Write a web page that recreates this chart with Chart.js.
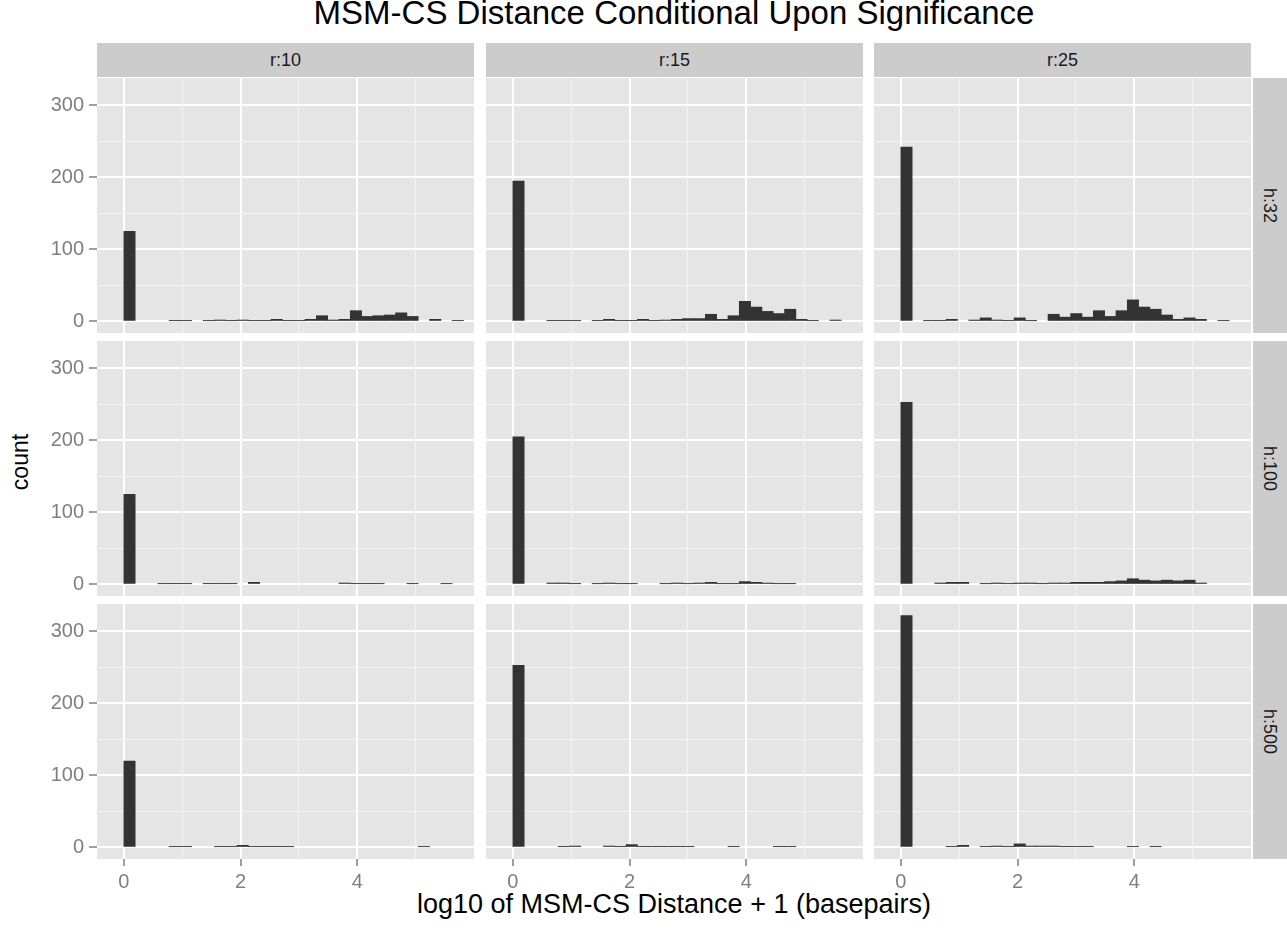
<!DOCTYPE html>
<html>
<head>
<meta charset="utf-8">
<script src="https://cdn.jsdelivr.net/npm/chart.js@4.4.0/dist/chart.umd.min.js"></script>
<style>
  body { margin: 0; background: #ffffff; font-family: "Liberation Sans", Arial, sans-serif; }
  #wrap { position: relative; width: 1287px; height: 932px; overflow: hidden; }
  .box { position: absolute; }
  .strip { position: absolute; background: #cccccc; color: #1a1a1a; font-size: 18px;
           display: flex; align-items: center; justify-content: center; }
  .vtext { transform: rotate(90deg); white-space: nowrap; }
  #title { position: absolute; left: 0; width: 1348px; top: -6px; text-align: center; font-size: 33px; color: #000; }
  #xtitle { position: absolute; left: 0; width: 1348px; top: 889px; text-align: center; font-size: 27px; color: #000; }
  #ytitle { position: absolute; left: 20px; top: 462px; font-size: 23px; color: #000;
            transform: translate(-50%, -50%) rotate(-90deg); white-space: nowrap; }
</style>
</head>
<body>
<div id="wrap">
  <div id="title">MSM-CS Distance Conditional Upon Significance</div>
  <div id="xtitle">log10 of MSM-CS Distance + 1 (basepairs)</div>
  <div id="ytitle">count</div>
</div>
<script>
// histogram bins (log10 distance + 1), width 0.194
const binCenters = [0.097, 0.291, 0.485, 0.679, 0.873, 1.067, 1.261, 1.455, 1.649, 1.843,
                    2.037, 2.231, 2.425, 2.619, 2.813, 3.007, 3.201, 3.395, 3.589, 3.783,
                    3.977, 4.171, 4.365, 4.559, 4.753, 4.947, 5.141, 5.335, 5.529, 5.723];
const colLabels = ['r:10', 'r:15', 'r:25'];
const rowLabels = ['h:32', 'h:100', 'h:500'];
const xTicks = [0, 1, 2, 3, 4, 5];
const yTicks = [0, 50, 100, 150, 200, 250, 300];

// counts, one array per facet
const h32r10  = [125,0,0,0,1,1,0,1,2,1,2,1,1,3,1,1,3,8,2,3,15,7,8,9,12,7,0,3,0,1];
const h32r15  = [195,0,0,1,1,1,0,1,3,1,1,3,1,2,3,4,4,10,3,8,28,20,14,11,17,3,1,0,2,0];
const h32r25  = [242,0,1,1,3,0,2,5,2,1,5,1,0,10,6,11,6,15,7,15,30,20,17,9,3,5,3,0,1,0];
const h100r10 = [125,0,0,1,1,1,0,1,1,1,0,3,0,0,0,0,0,0,0,2,1,1,1,0,0,1,0,0,1,0];
const h100r15 = [205,0,0,2,2,1,0,1,2,1,1,0,0,1,2,1,2,3,1,1,4,3,2,1,1,0,0,0,0,0];
const h100r25 = [253,0,0,2,3,3,0,1,2,1,2,2,1,2,2,3,3,3,4,5,8,6,5,6,5,6,2,0,0,0];
const h500r10 = [120,0,0,0,1,1,0,0,1,1,3,1,1,1,1,0,0,0,0,0,0,0,0,0,0,0,1,0,0,0];
const h500r15 = [253,0,0,0,1,2,0,0,2,1,4,1,1,1,1,1,0,0,0,1,0,0,0,1,1,0,0,0,0,0];
const h500r25 = [322,0,0,0,1,3,0,1,2,1,5,2,2,2,1,1,1,0,0,0,1,0,1,0,0,0,0,0,0,0];

const facets = [
  [h32r10, h32r15, h32r25],
  [h100r10, h100r15, h100r25],
  [h500r10, h500r15, h500r25]
];

var colLeft = [97, 486, 874];
var rowTop = [78, 341, 604];
var panelW = 377, panelH = 255;
var FONT = '"Liberation Sans", Arial, sans-serif';

var wrap = document.getElementById('wrap');

// grey panel background
const panelBg = {
  id: 'panelBg',
  beforeDraw(chart) {
    var a = chart.chartArea, g = chart.ctx;
    g.save();
    g.fillStyle = '#e5e5e5';
    g.fillRect(a.left, a.top, a.right - a.left, a.bottom - a.top);
    g.restore();
  }
};

function addStrip(x, y, w, h, text, vertical) {
  var d = document.createElement('div');
  d.className = 'strip';
  d.style.left = x + 'px'; d.style.top = y + 'px';
  d.style.width = w + 'px'; d.style.height = h + 'px';
  var s = document.createElement('span');
  s.textContent = text;
  if (vertical) s.className = 'vtext';
  d.appendChild(s);
  wrap.appendChild(d);
}

for (var c = 0; c < 3; c++) addStrip(colLeft[c], 43, panelW, 34, colLabels[c], false);
for (var r = 0; r < 3; r++) addStrip(1253, rowTop[r], 34, panelH, rowLabels[r], true);

function noPad(a) {
  a.paddingTop = 0; a.paddingBottom = 0; a.paddingLeft = 0; a.paddingRight = 0;
}

function makePanel(r, c) {
  var yAxisW = c === 0 ? 60 : 0;
  var xAxisH = r === 2 ? 40 : 0;
  var box = document.createElement('div');
  box.className = 'box';
  box.style.left = (colLeft[c] - yAxisW) + 'px';
  box.style.top = rowTop[r] + 'px';
  var cv = document.createElement('canvas');
  cv.width = panelW + yAxisW;
  cv.height = panelH + xAxisH;
  box.appendChild(cv);
  wrap.appendChild(box);

  var counts = facets[r][c];
  var pts = [];
  // empty bins are left out (null) so no hairline is drawn for them
  for (var i = 0; i < binCenters.length; i++) pts.push({ x: binCenters[i], y: counts[i] > 0 ? counts[i] : null });

  new Chart(cv, {
    type: 'bar',
    data: { datasets: [{ data: pts, backgroundColor: '#333333', borderWidth: 0,
                         barPercentage: 1, categoryPercentage: 1 }] },
    plugins: [panelBg],
    options: {
      responsive: false,
      animation: false,
      layout: { padding: 0 },
      plugins: { legend: { display: false }, tooltip: { enabled: false } },
      scales: {
        x: {
          type: 'linear', min: -0.46, max: 6.0, offset: false,
          afterBuildTicks: function (a) { a.ticks = xTicks.map(function (v) { return { value: v }; }); },
          afterFit: function (a) { a.height = xAxisH; noPad(a); },
          border: { display: false },
          grid: {
            offset: false,
            color: function (ctx) { return ctx.tick && ctx.tick.value % 2 === 0 ? '#ffffff' : '#f2f2f2'; },
            lineWidth: function (ctx) { return ctx.tick && ctx.tick.value % 2 === 0 ? 2 : 1; },
            drawTicks: r === 2, tickLength: 7, tickWidth: 1.5,
            tickColor: function (ctx) { return ctx.tick && ctx.tick.value % 2 === 0 ? '#7f7f7f' : 'rgba(0,0,0,0)'; }
          },
          ticks: { display: r === 2, autoSkip: false, maxRotation: 0, padding: 4, color: '#7f7f7f',
                   font: { family: FONT, size: 20 },
                   callback: function (v) { return v % 2 === 0 ? String(v) : ''; } }
        },
        y: {
          min: -16, max: 338,
          afterBuildTicks: function (a) { a.ticks = yTicks.map(function (v) { return { value: v }; }); },
          afterFit: function (a) { a.width = yAxisW; noPad(a); },
          border: { display: false },
          grid: {
            offset: false,
            color: function (ctx) { return ctx.tick && ctx.tick.value % 100 === 0 ? '#ffffff' : '#f2f2f2'; },
            lineWidth: function (ctx) { return ctx.tick && ctx.tick.value % 100 === 0 ? 2 : 1; },
            drawTicks: c === 0, tickLength: 8, tickWidth: 1.5,
            tickColor: function (ctx) { return ctx.tick && ctx.tick.value % 100 === 0 ? '#7f7f7f' : 'rgba(0,0,0,0)'; }
          },
          ticks: { display: c === 0, autoSkip: false, padding: 5, color: '#7f7f7f',
                   font: { family: FONT, size: 20 },
                   callback: function (v) { return v % 100 === 0 ? String(v) : ''; } }
        }
      }
    }
  });
}

for (var rr = 0; rr < 3; rr++) for (var cc = 0; cc < 3; cc++) makePanel(rr, cc);
</script>
</body>
</html>
